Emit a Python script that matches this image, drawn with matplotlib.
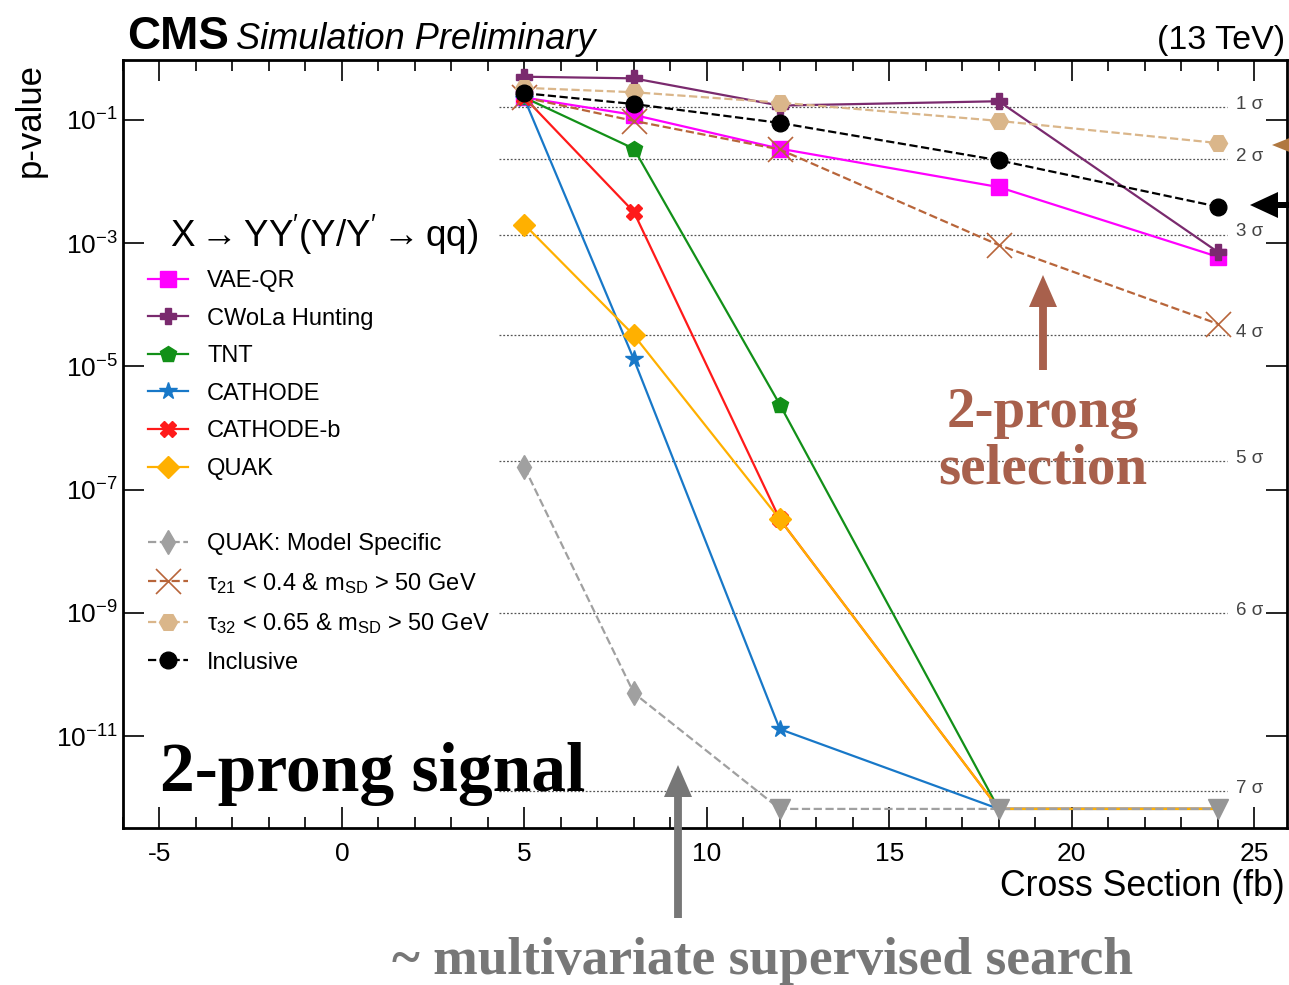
import matplotlib
matplotlib.use("Agg")
import matplotlib.pyplot as plt
from matplotlib.lines import Line2D
from matplotlib.ticker import FixedLocator, MultipleLocator, LogFormatterSciNotation

plt.rcParams['font.family'] = ['Liberation Sans', 'DejaVu Sans']
plt.rcParams['mathtext.fontset'] = 'custom'
plt.rcParams['mathtext.rm'] = 'Liberation Sans'
plt.rcParams['mathtext.it'] = 'Liberation Sans:italic'
plt.rcParams['axes.unicode_minus'] = False

# cross sections (fb)
xsec = [5, 8, 12, 18, 24]
floor_p = 6.6e-13  # values drawn on the bottom line (upper limit)

vae_qr = [0.23, 0.12, 0.034, 0.0081, 6.0e-4]
cwola = [0.50, 0.47, 0.17, 0.20, 7.2e-4]
tnt = [0.23, 0.034, 2.4e-6, floor_p, floor_p]
cathode = [0.22, 1.3e-5, 1.3e-11, floor_p, floor_p]
cathode_b = [0.23, 3.2e-3, 3.3e-8, floor_p, floor_p]
quak = [2.0e-3, 3.2e-5, 3.3e-8, floor_p, floor_p]
quak_ms = [2.3e-7, 5.0e-11, floor_p, floor_p, floor_p]
tau21 = [0.23, 0.096, 0.033, 9.3e-4, 4.9e-5]
tau32 = [0.33, 0.28, 0.19, 0.096, 0.042]
inclusive = [0.27, 0.18, 0.089, 0.022, 3.9e-3]

sigma_names = ["1 σ", "2 σ", "3 σ", "4 σ", "5 σ", "6 σ", "7 σ"]
sigma_p = [0.1587, 0.02275, 1.35e-3, 3.17e-5, 2.87e-7, 9.87e-10, 1.28e-12]

W, H = 1289, 985
fig = plt.figure(figsize=(W / 100, H / 100), dpi=100)
ax = fig.add_axes([123 / W, 1 - 828 / H, (1287 - 123) / W, (828 - 60) / H])
ax.set_yscale('log')
ax.set_xlim(-6.0, 25.9)
ax.set_ylim(10 ** -12.49, 10 ** -0.03)

for p, name in zip(sigma_p, sigma_names):
    ax.plot([4.3, 24.25], [p, p], ls=(0, (1.5, 1.5)), color='#555555', lw=0.9, zorder=1)
    ax.text(24.5, p * 1.12, name, fontsize=13.5, color='#444444', va='center', ha='left')


def draw(y, color, marker, ms, ls='-', label=None, z=3, mew=1.0):
    keep = [i for i, v in enumerate(y) if v != floor_p]
    ax.plot(xsec, y, color=color, ls=ls, lw=1.6, marker=marker, ms=ms,
            markevery=keep, mew=mew, label=label, zorder=z)


draw(vae_qr, '#ff00ff', 's', 11, label='VAE-QR')
draw(cwola, '#7a2a6e', 'P', 12, label='CWoLa Hunting')
draw(tnt, '#129018', 'p', 12, label='TNT')
draw(cathode, '#1878c8', '*', 13, label='CATHODE')
draw(cathode_b, '#ff1a1a', 'X', 11, label='CATHODE-b')
draw(quak, '#ffb000', 'D', 11, label='QUAK')
draw(quak_ms, '#a0a0a0', 'd', 12, ls='--', label='QUAK: Model Specific', z=4)
ax.plot([xsec[i] for i, v in enumerate(quak_ms) if v == floor_p],
        [v for v in quak_ms if v == floor_p], ls='none', marker='v', ms=14,
        color='#959595', zorder=5)
draw(tau21, '#b8653a', 'x', 18, ls='--', label=r'τ$_{21}$ < 0.4 & m$_{\mathrm{SD}}$ > 50 GeV', mew=1.2)
draw(tau32, '#dab68a', 'H', 13, ls='--', label=r'τ$_{32}$ < 0.65 & m$_{\mathrm{SD}}$ > 50 GeV')
draw(inclusive, 'black', 'o', 12, ls='--', label='Inclusive')

# ticks
ax.yaxis.set_major_locator(FixedLocator([10.0 ** k for k in (-1, -3, -5, -7, -9, -11)]))
ax.yaxis.set_minor_locator(FixedLocator([]))
ax.yaxis.set_major_formatter(LogFormatterSciNotation())
ax.xaxis.set_major_locator(MultipleLocator(5))
ax.xaxis.set_minor_locator(MultipleLocator(1))
ax.tick_params(which='both', direction='in', top=True, right=True, labelsize=19, width=1.2)
ax.tick_params(which='major', length=15)
ax.tick_params(which='minor', length=8)
ax.tick_params(axis='x', pad=10)
for s in ax.spines.values():
    s.set_linewidth(2)

# legend
handles, labels = ax.get_legend_handles_labels()
blank = Line2D([], [], ls='none')
handles = handles[:6] + [blank] + handles[6:]
labels = labels[:6] + [''] + labels[6:]
ax.legend(handles, labels, loc='upper left', bbox_to_anchor=(148 / W, 1 - 270 / H),
          bbox_transform=fig.transFigure, frameon=False, fontsize=17,
          handlelength=1.7, handletextpad=0.8, labelspacing=0.66, borderpad=0,
          borderaxespad=0)
fig.text(170 / W, 1 - 235 / H, r"X$\rightarrow$YY$^{\prime}$(Y/Y$^{\prime}$$\rightarrow$qq)",
         fontsize=26.5, va='center', ha='left')

# header and axis titles
fig.text(127 / W, 1 - 49 / H, 'CMS', fontsize=33, fontweight='bold', va='baseline')
fig.text(236 / W, 1 - 49 / H, 'Simulation Preliminary', fontsize=26, style='italic', va='baseline')
fig.text(1285 / W, 1 - 49 / H, '(13 TeV)', fontsize=24.5, ha='right', va='baseline')
fig.text(30 / W, 1 - 63 / H, 'p-value', fontsize=25, rotation=90, ha='center', va='top')
fig.text(1285 / W, 1 - 887 / H, 'Cross Section (fb)', fontsize=25.7, ha='right', va='center')

# overlaid annotations
serif = ['Liberation Serif', 'DejaVu Serif']
brown = '#a8604c'
fig.text(1043 / W, 1 - 441 / H, '2-prong\nselection', family=serif, fontweight='bold',
         fontsize=41, color=brown, ha='center', va='center', linespacing=1.12)
fig.text(160 / W, 1 - 774 / H, '2-prong signal', family=serif, fontweight='bold',
         fontsize=50, color='black', ha='left', va='center')
fig.text(763 / W, 1 - 961 / H, '~ multivariate supervised search', family=serif,
         fontweight='bold', fontsize=38.5, color='#777777', ha='center', va='center')


def fig_arrow(x0, y0, x1, y1, color, width=5, hw=26, hl=30):
    fig.patches.append(matplotlib.patches.FancyArrow(
        x0 / W, 1 - y0 / H, (x1 - x0) / W, (y0 - y1) / H, width=width / H,
        head_width=hw / W if x0 == x1 else hw / H, head_length=hl / H if x0 == x1 else hl / W,
        length_includes_head=True, color=color, transform=fig.transFigure, lw=0))


fig_arrow(1043, 370, 1043, 275, brown, width=6, hw=28, hl=32)
fig_arrow(678, 918, 678, 765, '#777777', width=6, hw=28, hl=32)
fig_arrow(1300, 205, 1250, 205, 'black', width=6, hw=26, hl=28)
fig_arrow(1310, 145, 1272, 145, '#b07840', width=2, hw=24, hl=30)

fig.savefig('out.png', dpi=100)
